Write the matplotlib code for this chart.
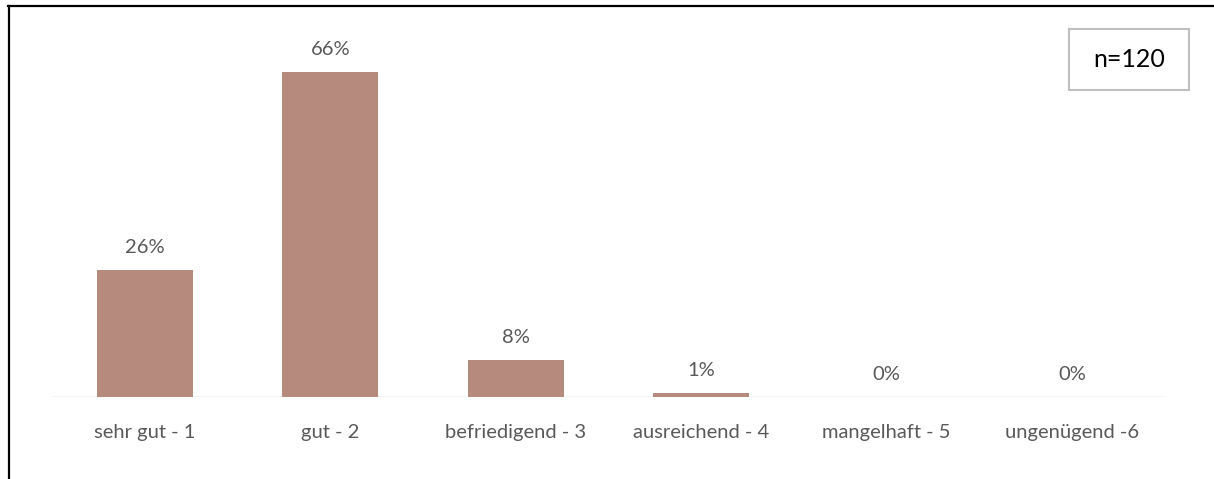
import matplotlib
matplotlib.use('Agg')
import matplotlib.pyplot as plt
from matplotlib.lines import Line2D
from matplotlib.patches import Rectangle

# data (shares of n=120 answers, in %)
categories = ['sehr gut - 1', 'gut - 2', 'befriedigend - 3', 'ausreichend - 4',
              'mangelhaft - 5', 'ungenügend -6']
values = [25.8, 65.8, 7.5, 0.8, 0.0, 0.0]
value_labels = ['26%', '66%', '8%', '1%', '0%', '0%']
n_label = 'n=120'

bar_color = '#b68b7d'
text_gray = '#595959'

plt.rcParams['font.family'] = ['Lato', 'DejaVu Sans']

W, H = 1214, 479
fig = plt.figure(figsize=(W / 100, H / 100), dpi=100)

# outer frame (cut off at right and bottom)
fig.add_artist(Line2D([8.5 / W, 8.5 / W], [0, 1 - 6 / H], transform=fig.transFigure,
                      color='black', lw=1.6))
fig.add_artist(Line2D([7.7 / W, 1], [1 - 6 / H, 1 - 6 / H], transform=fig.transFigure,
                      color='black', lw=1.6))

ax = fig.add_axes([52 / W, 82 / H, 1113 / W, 345.8 / H])
xs = list(range(len(categories)))
ax.bar(xs, values, width=0.52, color=bar_color, zorder=2)
ax.axhline(0, color='#cfcfcf', lw=1.0, zorder=1)
ax.set_xlim(-0.5, len(categories) - 0.5)
ax.set_ylim(0, 70)
for s in ax.spines.values():
    s.set_visible(False)
ax.set_xticks([])
ax.set_yticks([])

for x, v, lab in zip(xs, values, value_labels):
    ax.annotate(lab, (x, v), xytext=(0, 12), textcoords='offset points',
                ha='center', va='baseline', fontsize=14.5, color=text_gray)

for x, cat in zip(xs, categories):
    ax.annotate(cat, (x, 0), xytext=(0, -29.5), textcoords='offset points',
                ha='center', va='baseline', fontsize=14.5, color=text_gray)

# n box
fig.add_artist(Rectangle((1069 / W, 1 - 90 / H), 120 / W, 61 / H, transform=fig.transFigure,
                         facecolor='white', edgecolor='#bfbfbf', lw=1.5))
fig.text(1129 / W, 1 - 59.5 / H, n_label, ha='center', va='center', fontsize=18, color='black')

fig.savefig('out.png', dpi=100)
